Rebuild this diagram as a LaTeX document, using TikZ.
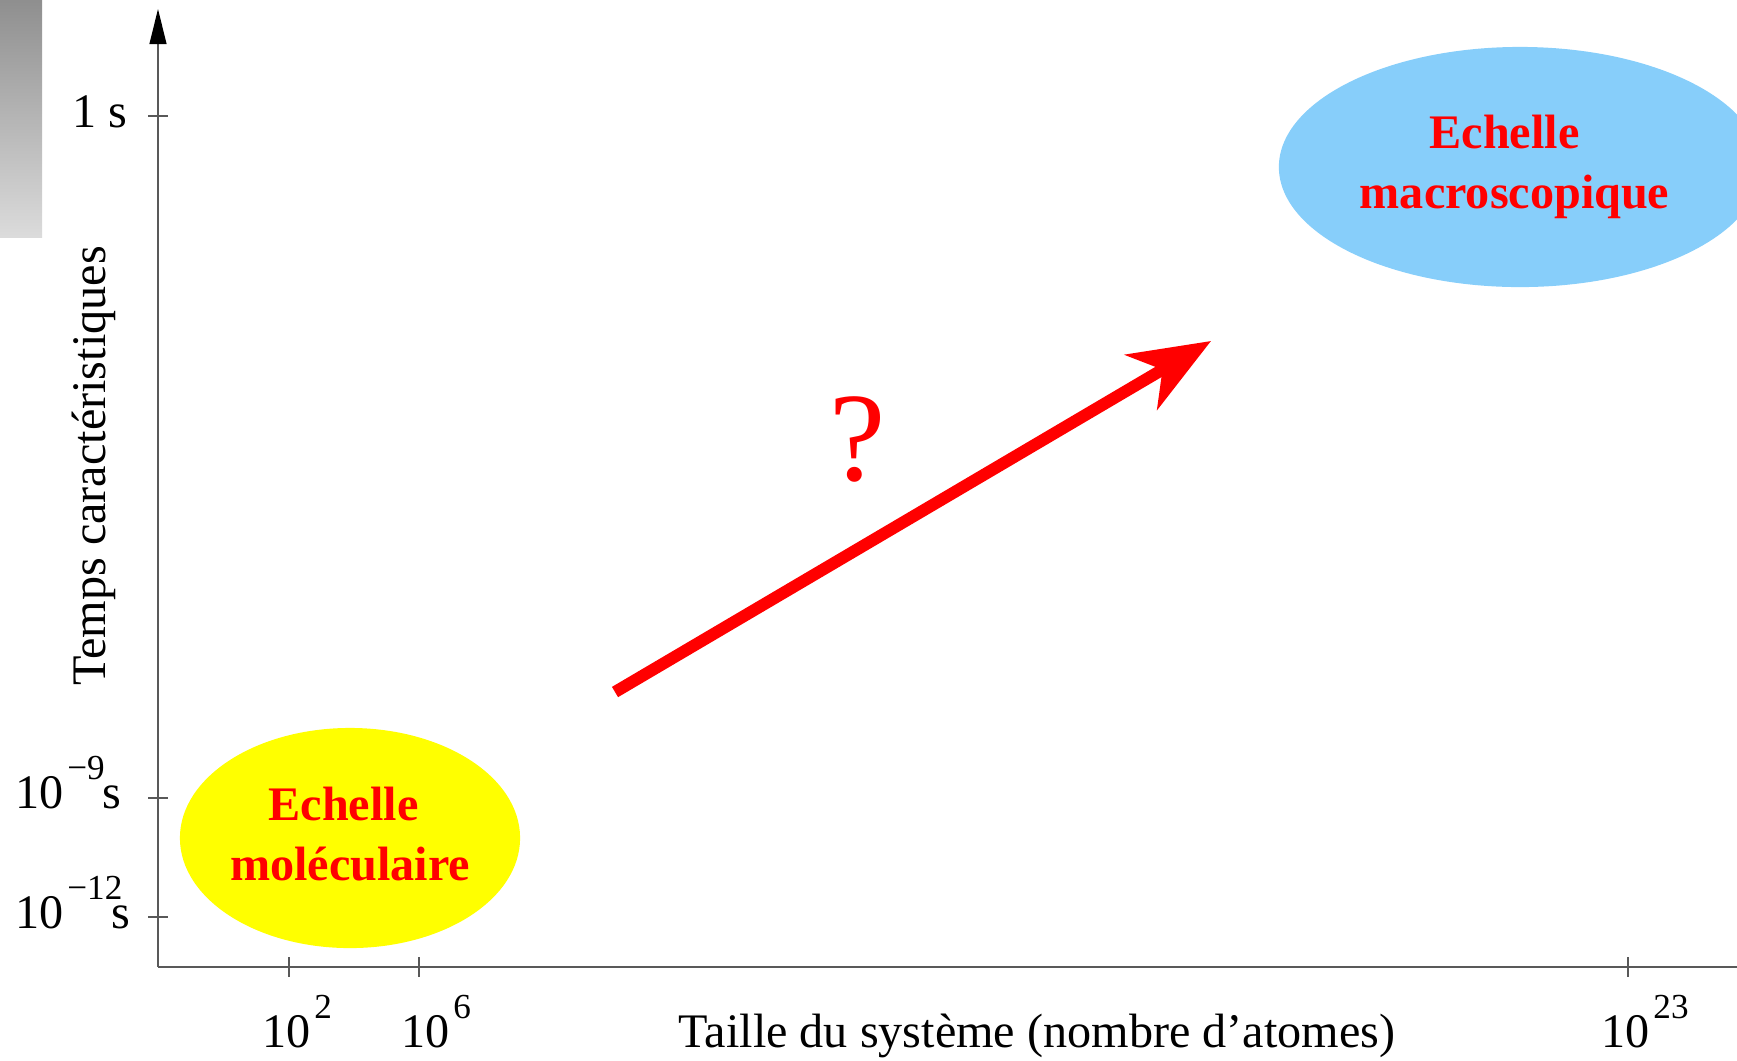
\documentclass[tikz,border=0pt]{standalone}
\usepackage{fontspec}
\setmainfont{Liberation Serif}
\usetikzlibrary{arrows.meta,shapes.geometric}
\definecolor{skyblue}{RGB}{135,206,250}
\definecolor{pureyellow}{RGB}{255,255,0}

\newcommand{\tenexp}[1]{10\kern1pt\raisebox{0.6em}{\fontsize{10}{10}\selectfont #1}}

\begin{document}
\begin{tikzpicture}[
  x=0.01cm,y=-0.01cm,
  font=\fontsize{13.7}{17}\selectfont,
  axisline/.style={draw=black!65,line width=0.5pt},
  zone/.style={ellipse,inner sep=0pt,align=center,text=red,font=\fontsize{13.7}{17}\selectfont\bfseries},
  lab/.style={anchor=base west,inner sep=0pt}
]
\clip[use as bounding box] (0,0) rectangle (1737,1060);
\shade[top color=black!44,bottom color=black!14] (0,0) rectangle (42,237);

% axes
\coordinate (o) at (158,967);
\coordinate (ytop) at (158,9);
\coordinate (xend) at (1737,967);
\draw[axisline,-{Triangle[length=10pt,width=4.8pt,color=black]}] (o) -- (ytop);
\draw[axisline] (o) -- (xend);
\foreach \y in {116,798,917} \draw[axisline] (148,\y) -- (168,\y);
\foreach \x in {289,419,1628} \draw[axisline] (\x,957) -- (\x,977);

\node[lab] (t0) at (72,127) {1 s};
\node[lab] (t9) at (15,808) {\tenexp{−9}\kern-0.8pt s};
\node[lab] (t12) at (15,928) {\tenexp{−12}\kern-3pt s};
\node[lab] (n2) at (262,1047) {\tenexp{2}};
\node[lab] (n6) at (401,1047) {\tenexp{6}};
\node[lab] (n23) at (1601,1047) {\tenexp{23}};
\node[anchor=base,inner sep=0pt] (xlab) at (1037,1047) {Taille du système (nombre d’atomes)};
\node[rotate=90,inner sep=0pt] (ylab) at (94,466) {Temps caractéristiques};

% scales
\node[zone,fill=pureyellow,minimum width=3.4cm,minimum height=2.2cm] (mol) at (350,838)
  {Echelle\hspace*{3.7pt}\\moléculaire\rule[-0.09cm]{0pt}{0pt}};
\node[zone,fill=skyblue,minimum width=4.82cm,minimum height=2.4cm] (mac) at (1520,167)
  {Echelle\hspace*{8.8pt}\\macroscopique\hspace*{3.1pt}};

\coordinate (from) at (615,692);
\coordinate (to) at (1211,341);
\draw[red,line width=3.4pt,-{Stealth[length=23pt,width=18pt,inset=7pt]}] (from) -- (to);
\node[text=red,font=\fontsize{36}{36}\selectfont] (q) at (858,439) {?};
\end{tikzpicture}
\end{document}
